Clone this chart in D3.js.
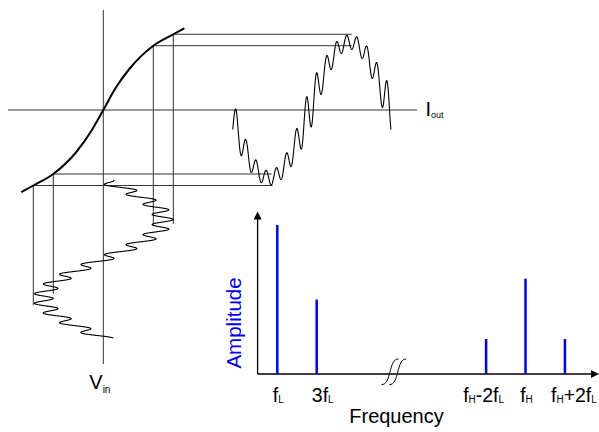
<!DOCTYPE html>
<html><head><meta charset="utf-8">
<script src="https://cdn.jsdelivr.net/npm/d3@7"></script>
<style>html,body{margin:0;padding:0;background:#fff}svg{display:block}</style>
</head><body><svg id="c" width="599" height="432"></svg>
<script>
// ---------- spectrum data (frequency in units of fL, axis broken between 3fL and fH-2fL)
const spectrumLabels = ["f_L", "3f_L", "f_H-2f_L", "f_H", "f_H+2f_L"];
const spectrumFreq   = [1, 3, 11.6, 13.6, 15.6];
const spectrumAmp    = [1.0, 0.50, 0.235, 0.64, 0.235];
const breakAt = 6.92;

// ---------- nonlinear transfer curve Iout = f(Vin)
const transferVin  = [-0.82, -0.70, -0.50, -0.27, -0.12, 0, 0.12, 0.26, 0.50, 0.69, 0.81];
const transferIout = [-0.822, -0.755, -0.64, -0.42, -0.21, 0, 0.215, 0.41, 0.643, 0.752, 0.818];

// ---------- two-tone input: low-frequency + high-frequency components
const lfAmplitude    = 0.6;   // input LF amplitude (Vin units)
const hfAmplitude    = 0.1;   // input HF amplitude (Vin units)
const hfCycles       = 16;    // HF cycles per LF period
const outLFAmplitude = 0.68;  // output LF amplitude (Iout units, compressed)
const outHFGain      = 1.25;  // extra emphasis of the HF ripple on the output sketch
const outHFPhase     = 0.0435; // output HF peak position (fraction of LF period)

// ---------- projection guides: Vin levels and where they stop on the traces
const guideVin       = [0.7, 0.5, -0.5, -0.7];
const guideInputEnd  = [0.278, 0.285, 0.722, 0.791];
const guideOutputEnd = [0.762, 0.762, 0.265, 0.271];

// ---------- layout (style only)
const labelNudge = [1, 6, -2.5, 1, 9];
const FONT = "'Liberation Sans', Arial, Helvetica, sans-serif";

const svg = d3.select("#c");

// scales for the transfer diagram
const xV = d3.scaleLinear().domain([0, 1]).range([103.3, 203.3]);   // Vin -> x
const yI = d3.scaleLinear().domain([0, 1]).range([110, 10]);        // Iout -> y
const yT = d3.scaleLinear().domain([0, 1]).range([180, 338]);       // input time -> y
const xT = d3.scaleLinear().domain([0, 1]).range([229, 390]);       // output time -> x
const transfer = d3.scaleLinear().domain(transferVin).range(transferIout);
const gain = v => (transfer(v + 0.1) - transfer(v - 0.1)) / 0.2;   // small-signal slope

const axisColor = "#333";

// Iout axis (horizontal) and Vin axis (vertical)
svg.append("line").attr("x1", 8).attr("x2", 417).attr("y1", yI(0)).attr("y2", yI(0))
  .attr("stroke", axisColor).attr("stroke-width", 1);
svg.append("line").attr("x1", xV(0)).attr("x2", xV(0)).attr("y1", 10).attr("y2", 364)
  .attr("stroke", axisColor).attr("stroke-width", 1);

// projection guides
guideVin.forEach((v, i) => {
  const cx = xV(v), cy = yI(transfer(v));
  svg.append("line").attr("x1", cx).attr("x2", cx).attr("y1", cy).attr("y2", yT(guideInputEnd[i]))
    .attr("stroke", axisColor).attr("stroke-width", 1);
  svg.append("line").attr("x1", cx).attr("x2", xT(guideOutputEnd[i])).attr("y1", cy).attr("y2", cy)
    .attr("stroke", axisColor).attr("stroke-width", 1);
});

// transfer curve
svg.append("path")
  .attr("d", d3.line().x((d, i) => xV(transferVin[i])).y((d, i) => yI(transferIout[i]))
    .curve(d3.curveMonotoneX)(transferVin))
  .attr("fill", "none").attr("stroke", "#000").attr("stroke-width", 2);

// input trace (time runs downward)
const vinIn = t => lfAmplitude * Math.sin(2 * Math.PI * t) + hfAmplitude * Math.cos(2 * Math.PI * hfCycles * t);
const tIn = d3.range(0, 1.0001, 1 / 1600);
svg.append("path")
  .attr("d", d3.line().x(t => xV(vinIn(t))).y(t => yT(t))(tIn))
  .attr("fill", "none").attr("stroke", "#000").attr("stroke-width", 1.1);

// output trace (time runs right): compressed LF + HF scaled by local gain of the transfer curve
const ioutOut = t => {
  const vLF = -lfAmplitude * Math.sin(2 * Math.PI * t);
  return -outLFAmplitude * Math.sin(2 * Math.PI * t)
    + hfAmplitude * outHFGain * gain(vLF) * Math.cos(2 * Math.PI * hfCycles * (t - outHFPhase));
};
const tOut = d3.range(0.023, 1.006, 1 / 1600);
svg.append("path")
  .attr("d", d3.line().x(t => xT(t)).y(t => yI(ioutOut(t)))(tOut))
  .attr("fill", "none").attr("stroke", "#000").attr("stroke-width", 1.1);

// helper: text with subscripts marked by "_" before each subscript char
function richText(sel, str, size, subSize, subDy) {
  const parts = [];
  for (let i = 0; i < str.length; i++) {
    const sub = str[i] === "_";
    const ch = sub ? str[++i] : str[i];
    const last = parts[parts.length - 1];
    if (last && last.sub === sub) last.t += ch; else parts.push({ t: ch, sub });
  }
  let prevSub = false;
  parts.forEach(p => {
    const ts = sel.append("tspan").text(p.t).attr("font-size", p.sub ? subSize : size);
    if (p.sub && !prevSub) ts.attr("dy", subDy);
    else if (!p.sub && prevSub) ts.attr("dy", -subDy);
    prevSub = p.sub;
  });
}

// labels Iout and Vin
richText(svg.append("text").attr("x", 425.5).attr("y", 115.5).attr("font-family", FONT).attr("fill", "#000"),
  "I_o_u_t", 20, 9, 2.5);
richText(svg.append("text").attr("x", 89.3).attr("y", 388.5).attr("font-family", FONT).attr("fill", "#000"),
  "V_i_n", 20, 10, 4.5);

// ---------- spectrum
const fx = d3.scaleLinear().domain([0, 17]).range([257.6, 592.5]);
const amp = d3.scaleLinear().domain([0, 1]).range([374, 225]);

// axes with arrowheads
svg.append("line").attr("x1", fx(0)).attr("x2", fx(0)).attr("y1", amp(0)).attr("y2", 216)
  .attr("stroke", "#000").attr("stroke-width", 1.3);
svg.append("line").attr("x1", fx(0)).attr("x2", 594).attr("y1", amp(0)).attr("y2", amp(0))
  .attr("stroke", "#000").attr("stroke-width", 1.3);
svg.append("path").attr("d", `M${fx(0)},211.5 L${fx(0) - 4},219.5 L${fx(0) + 4},219.5 Z`).attr("fill", "#000");
svg.append("path").attr("d", `M599,${amp(0)} L591,${amp(0) - 4} L591,${amp(0) + 4} Z`).attr("fill", "#000");

// break symbol
const bx = fx(breakAt);
[-3.9, 3.9].forEach(o => {
  const c = bx + o;
  svg.append("path")
    .attr("d", `M${c - 8.5},${amp(0) + 10.5} C${c + 1.5},${amp(0) + 11.5} ${c - 1.5},${amp(0) - 16} ${c + 8.5},${amp(0) - 15}`)
    .attr("fill", "none").attr("stroke", "#000").attr("stroke-width", 1);
});

// bars
svg.selectAll("line.bar").data(spectrumFreq).join("line").attr("class", "bar")
  .attr("x1", d => fx(d)).attr("x2", d => fx(d))
  .attr("y1", amp(0)).attr("y2", (d, i) => amp(spectrumAmp[i]))
  .attr("stroke", "#0000ff").attr("stroke-width", 2.5);

// tick labels
spectrumLabels.forEach((lab, i) => {
  const t = svg.append("text").attr("x", fx(spectrumFreq[i]) + labelNudge[i]).attr("y", 401.5)
    .attr("text-anchor", "middle").attr("font-family", FONT).attr("fill", "#000");
  richText(t, lab, 19.5, 10, 1);
});

// axis titles
svg.append("text").attr("x", 396.5).attr("y", 423).attr("text-anchor", "middle")
  .attr("font-family", FONT).attr("font-size", 20).attr("fill", "#000").text("Frequency");
svg.append("text").attr("transform", "translate(241,323) rotate(-90)").attr("text-anchor", "middle")
  .attr("font-family", FONT).attr("font-size", 20.5).attr("fill", "#0000ff").text("Amplitude");
</script></body></html>
